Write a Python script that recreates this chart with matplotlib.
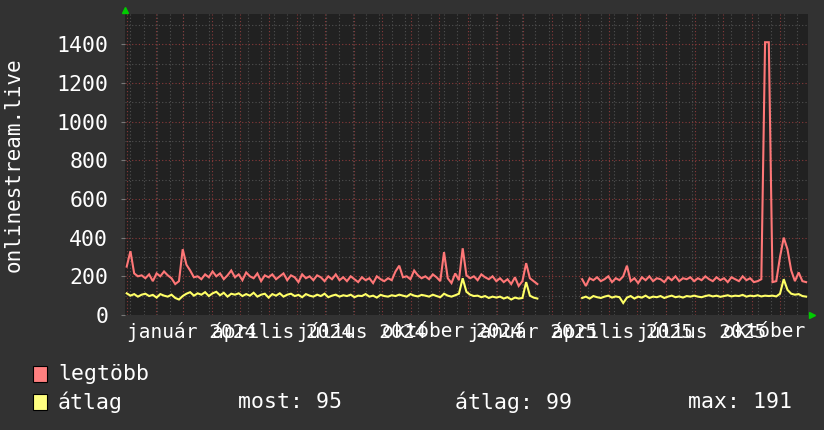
import numpy as np
import pandas as pd
import matplotlib
matplotlib.use("Agg")
import matplotlib.pyplot as plt
from matplotlib.patches import Rectangle
from matplotlib.transforms import Bbox, blended_transform_factory

nan = np.nan
# sample dates (every 4 days)
dates = pd.date_range("2024-01-01", periods=183, freq="4D")

legtobb = [
    250, 330, 215, 200, 205, 190, 210, 175, 215, 200,
    225, 205, 190, 160, 175, 340, 260, 230, 195, 200,
    185, 210, 195, 225, 200, 215, 185, 205, 230, 195,
    210, 180, 220, 200, 190, 215, 175, 205, 195, 210,
    185, 200, 215, 180, 205, 195, 170, 210, 190, 200,
    180, 205, 195, 175, 200, 185, 210, 180, 195, 175,
    200, 185, 170, 195, 180, 190, 165, 200, 185, 175,
    190, 180, 225, 255, 195, 200, 185, 230, 205, 190,
    200, 185, 210, 195, 175, 325, 190, 165, 215, 180,
    345, 205, 190, 200, 180, 210, 195, 185, 200, 175,
    190, 170, 185, 160, 195, 150, 175, 268, 190, 175,
    160,
    nan, nan, nan, nan, nan, nan, nan, nan, nan, nan, nan,
    185, 150, 190, 180, 195, 175, 185, 200, 170, 190,
    180, 200, 255, 175, 190, 165, 195, 180, 200, 175,
    190, 185, 170, 195, 180, 200, 175, 190, 185, 195,
    175, 190, 180, 200, 185, 175, 195, 180, 190, 170,
    195, 185, 175, 200, 180, 190, 170, 175, 185, 1410,
    1410, 170, 175, 300, 400, 340, 230, 175, 220, 175, 170,
]

atlag = [
    112, 100, 108, 95, 105, 110, 98, 104, 90, 108,
    100, 95, 105, 88, 80, 98, 110, 118, 100, 112,
    105, 118, 98, 112, 120, 102, 115, 95, 110, 105,
    112, 98, 108, 100, 115, 95, 105, 110, 90, 108,
    100, 112, 95, 105, 110, 98, 104, 92, 108, 100,
    95, 105, 98, 110, 92, 100, 105, 95, 102, 98,
    105, 92, 100, 98, 108, 95, 100, 90, 104, 98,
    95, 102, 98, 105, 100, 95, 108, 100, 96, 104,
    100, 95, 105, 98, 92, 110, 100, 95, 102, 110,
    190, 120, 105, 98, 100, 92, 98, 88, 95, 90,
    95, 85, 92, 80, 90, 85, 88, 170, 100, 90,
    85,
    nan, nan, nan, nan, nan, nan, nan, nan, nan, nan, nan,
    88, 95, 85, 98, 92, 88, 95, 100, 90, 96,
    92, 62, 90, 98, 85, 95, 90, 100, 88, 95,
    92, 98, 88, 95, 100, 92, 96, 90, 98, 95,
    100, 95, 92, 98, 102, 96, 100, 94, 98, 102,
    96, 100, 98, 104, 95, 100, 97, 102, 96, 100,
    98, 100, 96, 110, 185, 130, 110, 105, 108, 98, 95,
]

y_ticks = [0, 200, 400, 600, 800, 1000, 1200, 1400]
x_label_dates = ["2024-01-01", "2024-04-01", "2024-07-01", "2024-10-01",
                 "2025-01-01", "2025-04-01", "2025-07-01", "2025-10-01"]
x_label_texts = ["január 2024", "április 2024", "július 2024", "október 2024",
                 "január 2025", "április 2025", "július 2025", "október 2025"]
series_names = ["legtöbb", "átlag"]
stats_text = ["most: 95", "átlag: 99", "max: 191"]

W, H = 824, 430
BG = "#323232"
PLOT_BG = "#212121"
RED = "#ff7777"
YEL = "#ffff66"
MONO = "DejaVu Sans Mono"

fig = plt.figure(figsize=(W / 100, H / 100), dpi=100, facecolor=BG)
L, R, T, B = 125, 808, 14, 315
ax = fig.add_axes([L / W, 1 - B / H, (R - L) / W, (B - T) / H])
ax.set_facecolor(PLOT_BG)
for s in ax.spines.values():
    s.set_visible(False)

x0 = pd.Timestamp("2023-12-30 04:00")
x1 = pd.Timestamp("2025-12-31 00:00")
ax.set_xlim(x0, x1)
ax.set_ylim(0, 1556)

# grid: minor (gray) and major (red)
minor_x = pd.date_range("2024-01-05", x1, freq="14D")
for d in minor_x:
    ax.axvline(d, color="#505050", lw=0.8, ls=(0, (1, 2)), zorder=1)
for y in range(100, 1556, 100):
    if y % 200:
        ax.axhline(y, color="#505050", lw=0.8, ls=(0, (1, 2)), zorder=1)
major_x = pd.date_range("2024-01-01", x1, freq="MS")
for d in major_x:
    ax.axvline(d, color="#8a3a3a", lw=0.8, ls=(0, (1, 2)), zorder=1.5)
for y in y_ticks[1:]:
    ax.axhline(y, color="#8a3a3a", lw=0.8, ls=(0, (1, 2)), zorder=1.5)

ax.plot(dates, legtobb, color=RED, lw=1.5, zorder=3, solid_joinstyle="miter")
ax.plot(dates, atlag, color=YEL, lw=1.5, zorder=4, solid_joinstyle="miter")

ax.set_yticks(y_ticks)
ax.set_yticklabels([str(v) for v in y_ticks], fontfamily=MONO, fontsize=15.5, color="white")
ax.tick_params(axis="y", length=3, color="#777777", pad=9)
ax.set_xticks([])

# x labels (left-aligned at quarter ticks, clipped at right)
trans = blended_transform_factory(ax.transData, ax.transAxes)
clip = Bbox([[0, 0], [812, H]])
for d, t in zip(x_label_dates, x_label_texts):
    txt = ax.text(pd.Timestamp(d), -0.022, t, transform=trans, ha="left", va="top",
                  fontfamily=MONO, fontsize=14, color="white", clip_on=True)
    txt.set_clip_box(clip)

fig.text(14 / W, 1 - 165 / H, "onlinestream.live", rotation=90, ha="center", va="center",
         fontfamily=MONO, fontsize=15, color="white")

# green arrows
ax.plot([0], [1.012], marker="^", color="#00cc00", markersize=5, transform=ax.transAxes, clip_on=False)
ax.plot([1.006], [0], marker=">", color="#00cc00", markersize=5, transform=ax.transAxes, clip_on=False)

# legend
for i, (name, col) in enumerate(zip(series_names, ["#ff8080", "#ffff80"])):
    yc = 374 + i * 28
    fig.patches.append(Rectangle((33 / W, 1 - (yc + 8) / H), 14 / W, 16 / H,
                                 transform=fig.transFigure, facecolor=col,
                                 edgecolor="black", lw=0.8))
    fig.text(58 / W, 1 - yc / H, name, ha="left", va="center",
             fontfamily=MONO, fontsize=15.5, color="white")
for x, t in zip([238, 455, 688], stats_text):
    fig.text(x / W, 1 - 402 / H, t, ha="left", va="center",
             fontfamily=MONO, fontsize=15.5, color="white")

fig.savefig("out.png", dpi=100, facecolor=BG)
